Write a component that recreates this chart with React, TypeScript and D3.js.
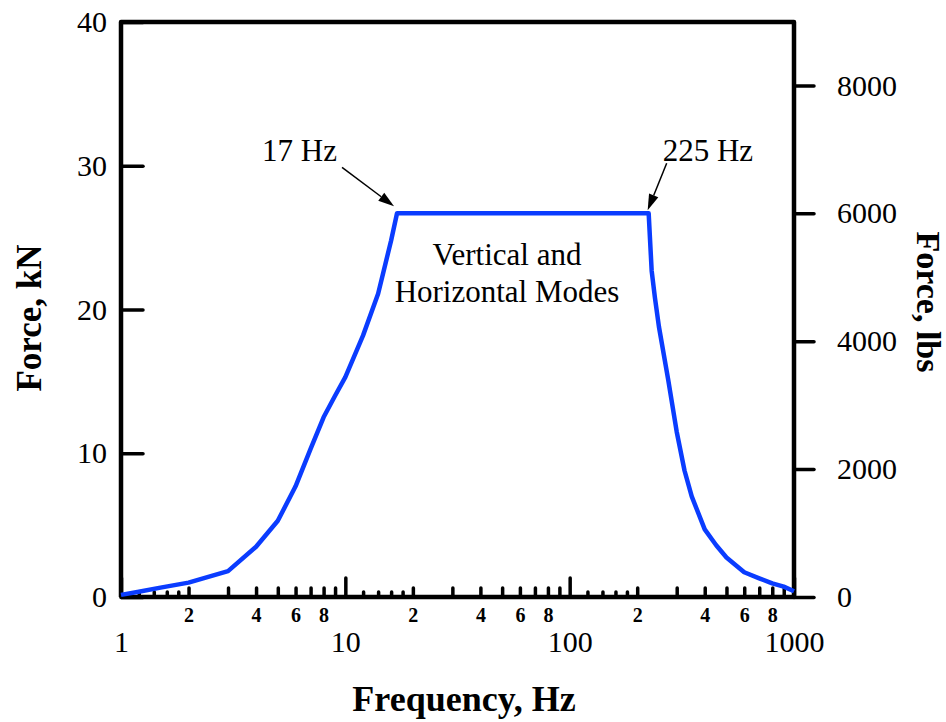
import React, { useEffect, useRef } from 'react';
import * as d3 from 'd3';

// force envelope (Hz, kN)
const freqHz = [1, 1.2, 1.5, 2, 3, 4, 5, 6, 7, 8, 9, 10, 12, 14, 16, 17,
  225, 232, 240, 250, 275, 300, 325, 350, 400, 450, 500, 600, 700, 800, 900, 1000];
const forceKN = [0.15, 0.37, 0.65, 1.0, 1.8, 3.5, 5.3, 7.7, 10.3, 12.5, 14.0, 15.3, 18.2, 21.1, 24.8, 26.69,
  26.69, 22.7, 20.8, 18.8, 15.1, 11.5, 8.8, 7.0, 4.7, 3.6, 2.75, 1.72, 1.3, 0.95, 0.72, 0.4];

const kNTicks = [0, 10, 20, 30, 40];
const lbsTicks = [0, 2000, 4000, 6000, 8000];
const decadeTicks = [1, 10, 100, 1000];
const midTicks = [2, 3, 4, 5, 6, 7, 8, 9, 20, 30, 40, 50, 60, 70, 80, 90, 200, 300, 400, 500, 600, 700, 800, 900];
const smallTicks = [1.2, 1.4, 1.6, 1.8, 12, 14, 16, 18, 120, 140, 160, 180];
const cornerFreqs = [17, 225];
const cornerLabels = ['17 Hz', '225 Hz'];
const modeLines = ['Vertical and', 'Horizontal Modes'];
const LBS_PER_KN = 224.809;

const W = 946;
const H = 722;
const FONT = "'Liberation Serif', 'Times New Roman', serif";
const BLUE = '#0a3cff';

export default function App() {
  const ref = useRef<SVGSVGElement>(null);

  useEffect(() => {
    const svg = d3.select(ref.current);
    svg.selectAll('*').remove();

    const left = 121, right = 794, top = 22, bottom = 597;

    const x = d3.scaleLog().domain([1, 1000]).range([left, right]);
    const y = d3.scaleLinear().domain([0, 40]).range([bottom, top]);
    const yLbs = d3.scaleLinear().domain([0, 40 * LBS_PER_KN]).range([bottom, top]);

    const styleAxis = (g, size, weight) => {
      g.select('.domain').remove();
      g.selectAll('line').attr('stroke', '#000').attr('stroke-width', 3.5).attr('stroke-linecap', 'round');
      g.selectAll('text')
        .attr('font-family', FONT)
        .attr('font-size', size)
        .attr('font-weight', weight)
        .attr('fill', '#000');
    };

    // left axis (kN), ticks point inward
    const gL = svg.append('g').attr('transform', `translate(${left},0)`)
      .call(d3.axisLeft(y).tickValues(kNTicks).tickSize(-22).tickPadding(14).tickFormat(d3.format('d')));
    styleAxis(gL, 30, 'normal');

    // right axis (lbs), ticks point outward
    const gR = svg.append('g').attr('transform', `translate(${right},0)`)
      .call(d3.axisRight(yLbs).tickValues(lbsTicks).tickSize(20).tickPadding(23).tickFormat(d3.format('d')));
    styleAxis(gR, 30, 'normal');

    // bottom axis: three tick sizes
    const gS = svg.append('g').attr('transform', `translate(0,${bottom})`)
      .call(d3.axisBottom(x).tickValues(smallTicks).tickSize(-5).tickFormat(() => ''));
    styleAxis(gS, 10, 'normal');

    const gM = svg.append('g').attr('transform', `translate(0,${bottom})`)
      .call(d3.axisBottom(x).tickValues(midTicks).tickSize(-9).tickPadding(11)
        .tickFormat(d => {
          const lead = Math.round(+d / Math.pow(10, Math.floor(Math.log10(+d))));
          return lead % 2 === 0 ? String(lead) : '';
        }));
    styleAxis(gM, 20, 'bold');

    const gD = svg.append('g').attr('transform', `translate(0,${bottom})`)
      .call(d3.axisBottom(x).tickValues(decadeTicks).tickSize(-19).tickPadding(34).tickFormat(d3.format('d')));
    styleAxis(gD, 30, 'normal');

    // frame
    svg.append('path')
      .attr('d', `M${left},${bottom}V${top}H${right}V${bottom}H${left}`)
      .attr('fill', 'none')
      .attr('stroke', '#000')
      .attr('stroke-width', 4.5)
      .attr('stroke-linejoin', 'round');

    // curve
    const pts = freqHz.map((f, i) => [f, forceKN[i]] as [number, number]);
    svg.append('path')
      .datum(pts)
      .attr('fill', 'none')
      .attr('stroke', BLUE)
      .attr('stroke-width', 4.5)
      .attr('stroke-linejoin', 'round')
      .attr('d', d3.line<[number, number]>().x(d => x(d[0])).y(d => y(d[1])));

    // corner annotations
    const plateau = forceKN[freqHz.indexOf(17)];
    const tipOff = [[-3, -7], [-1, -3]];
    const tailOff = [[-52, -39], [19, -47]];
    const labelOff = [[-132, -45], [15, -49]];
    cornerFreqs.forEach((f, i) => {
      const tx = x(f) + tipOff[i][0];
      const ty = y(plateau) + tipOff[i][1];
      const sx = tx + tailOff[i][0];
      const sy = ty + tailOff[i][1];
      const ang = Math.atan2(ty - sy, tx - sx);
      const len = 16, hw = 5;
      const bx = tx - len * Math.cos(ang);
      const by = ty - len * Math.sin(ang);
      svg.append('line')
        .attr('x1', sx).attr('y1', sy).attr('x2', bx).attr('y2', by)
        .attr('stroke', '#000').attr('stroke-width', 1.5);
      svg.append('path')
        .attr('d', `M${tx},${ty}L${bx + hw * Math.sin(ang)},${by - hw * Math.cos(ang)}L${bx - hw * Math.sin(ang)},${by + hw * Math.cos(ang)}Z`)
        .attr('fill', '#000');
      svg.append('text')
        .attr('x', tx + labelOff[i][0])
        .attr('y', ty + labelOff[i][1])
        .attr('font-family', FONT)
        .attr('font-size', 31)
        .text(cornerLabels[i]);
    });

    svg.append('g').selectAll('text').data(modeLines).enter().append('text')
      .attr('x', 507)
      .attr('y', (d, i) => 265 + i * 37)
      .attr('text-anchor', 'middle')
      .attr('font-family', FONT)
      .attr('font-size', 31)
      .text(d => d);

    // axis titles
    const title = (tx, ty, rot, txt, size) => {
      svg.append('text')
        .attr('transform', `translate(${tx},${ty}) rotate(${rot})`)
        .attr('text-anchor', 'middle')
        .attr('font-family', FONT)
        .attr('font-weight', 'bold')
        .attr('font-size', size)
        .text(txt);
    };
    title(464, 711, 0, 'Frequency, Hz', 36);
    title(41, 318, -90, 'Force, kN', 35);
    title(917, 302, 90, 'Force, lbs', 34);
  }, []);

  return (
    <svg
      ref={ref}
      width={W}
      height={H}
      style={{ position: 'absolute', left: 0, top: 0, background: '#fff', display: 'block' }}
    />
  );
}
